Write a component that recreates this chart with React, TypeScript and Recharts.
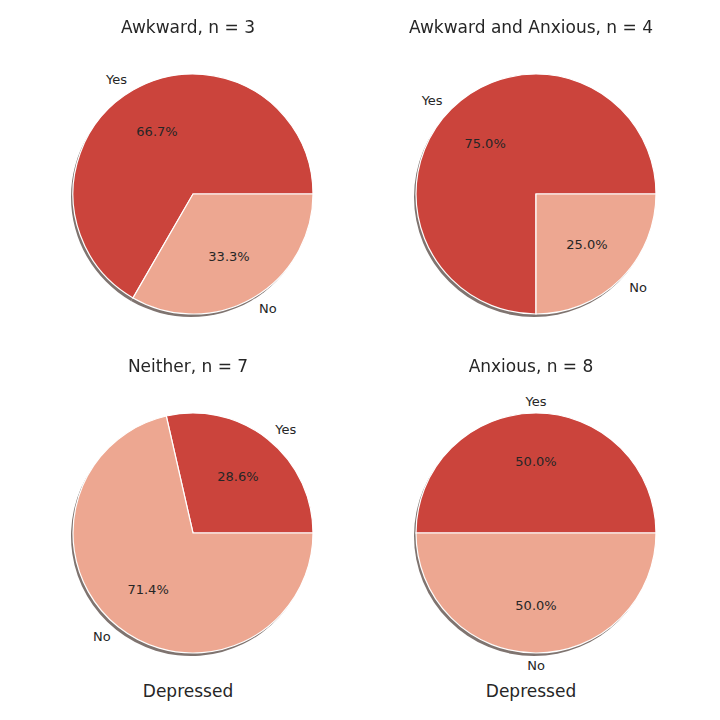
import React from 'react';
import { PieChart, Pie, Cell } from 'recharts';

const labels = ['Yes', 'No'];
const titles = ['Awkward, n = 3', 'Awkward and Anxious, n = 4', 'Neither, n = 7', 'Anxious, n = 8'];
const yesCounts = [2, 3, 2, 4];
const noCounts = [1, 1, 5, 4];
const colors = ['#CB443C', '#EDA791'];
const centers = [[188, 189], [531, 189], [188, 528], [531, 528]];
const R = 120;
const RAD = Math.PI / 180;

const renderLabel = (p: any) => {
  const { cx, cy, midAngle, outerRadius, percent, name } = p;
  const c = Math.cos(-midAngle * RAD), s = Math.sin(-midAngle * RAD);
  const lx = cx + outerRadius * 1.1 * c, ly = cy + outerRadius * 1.1 * s;
  const px = cx + outerRadius * 0.6 * c, py = cy + outerRadius * 0.6 * s;
  return (
    <g>
      <text x={lx} y={ly} textAnchor={c > 0.0001 ? 'start' : c < -0.0001 ? 'end' : 'middle'} dominantBaseline="central" fontSize={13} fill="#262626" fontFamily="DejaVu Sans">{name}</text>
      <text x={px} y={py} textAnchor="middle" dominantBaseline="central" fontSize={13} fill="#262626" fontFamily="DejaVu Sans">{(percent * 100).toFixed(1)}%</text>
    </g>
  );
};

export default function App() {
  return (
    <div style={{ position: 'fixed', left: 0, top: 0, width: 720, height: 720, background: '#fff', fontFamily: 'DejaVu Sans', color: '#262626' }}>
      <PieChart width={720} height={720}>
        {centers.map(([cx, cy], i) => {
          const data = labels.map((n, j) => ({ name: n, value: j === 0 ? yesCounts[i] : noCounts[i] }));
          return [
            <Pie key={'s' + i} data={data} dataKey="value" cx={cx - 2} cy={cy + 3} outerRadius={R} startAngle={0} endAngle={360} isAnimationActive={false} stroke="none" fill="#7f7470" label={false}>
              {data.map((d, j) => <Cell key={j} fill="#7f7470" />)}
            </Pie>,
            <Pie key={'p' + i} data={data} dataKey="value" cx={cx} cy={cy} outerRadius={R} startAngle={0} endAngle={360} isAnimationActive={false} stroke="#fff" strokeWidth={1.2} labelLine={false} label={renderLabel}>
              {data.map((d, j) => <Cell key={j} fill={colors[j]} />)}
            </Pie>,
          ];
        })}
      </PieChart>
      {titles.map((t, i) => (
        <div key={t} style={{ position: 'absolute', left: centers[i][0] - 200, width: 400, top: centers[i][1] - 172, textAlign: 'center', fontSize: 17 }}>{t}</div>
      ))}
      {[188, 531].map((x) => (
        <div key={x} style={{ position: 'absolute', left: x - 100, width: 200, top: 681, textAlign: 'center', fontSize: 17 }}>Depressed</div>
      ))}
    </div>
  );
}
